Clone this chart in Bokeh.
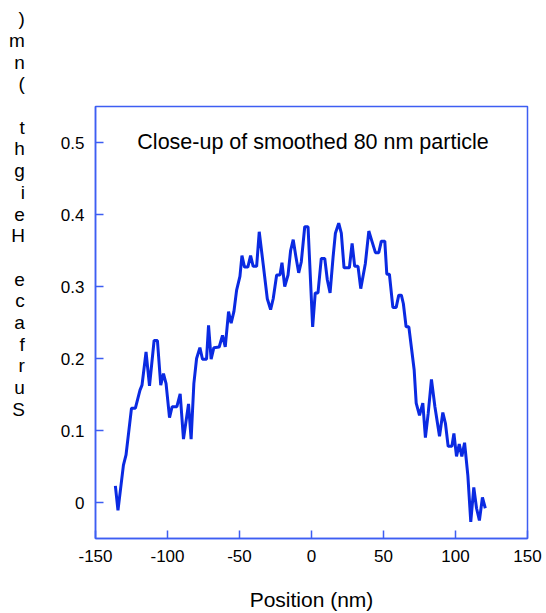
from bokeh.plotting import figure
from bokeh.models import Range1d, FixedTicker, Label
from bokeh.embed import file_html
from bokeh.resources import INLINE

# Height profile across the particle (position in nm, height in nm)
position_nm = [
    -136.2, -134.4, -130.6, -128.8, -125.0, -122.3, -119.1, -117.7, -114.9, -112.5,
    -109.3, -107.0, -104.7, -102.8, -101.0, -98.6, -96.8, -93.5, -91.2, -88.9,
    -85.4, -83.6, -81.7, -79.8, -77.5, -75.7, -72.9, -71.5, -69.7, -67.8,
    -64.1, -61.8, -59.9, -57.6, -55.8, -53.9, -52.0, -49.7, -48.3, -46.5,
    -44.2, -42.3, -40.5, -38.1, -36.3, -33.5, -30.7, -28.4, -26.6, -24.2,
    -21.9, -20.5, -18.6, -16.3, -14.5, -12.7, -10.8, -8.9, -7.1, -4.7,
    -2.4, 0.8, 2.6, 4.5, 6.8, 9.2, 11.0, 12.9, 15.0, 16.6,
    18.9, 20.7, 22.6, 26.3, 28.2, 30.0, 32.3, 34.2, 37.4, 39.8,
    42.1, 44.4, 46.7, 48.5, 50.9, 52.3, 54.1, 56.5, 58.8, 60.6,
    62.4, 63.8, 65.7, 67.6, 69.4, 71.3, 72.7, 75.0, 77.3, 79.1,
    81.0, 83.3, 85.7, 88.9, 91.2, 93.0, 94.9, 97.5, 98.9, 100.7,
    102.6, 104.4, 106.3, 108.6, 110.6, 112.7, 114.6, 116.6, 118.7, 120.7,
]
height_nm = [
    0.023, -0.011, 0.052, 0.066, 0.131, 0.131, 0.156, 0.163, 0.209, 0.162,
    0.225, 0.225, 0.163, 0.179, 0.165, 0.118, 0.133, 0.133, 0.151, 0.088,
    0.137, 0.088, 0.165, 0.200, 0.215, 0.199, 0.199, 0.246, 0.199, 0.215,
    0.216, 0.232, 0.216, 0.265, 0.249, 0.265, 0.295, 0.314, 0.343, 0.327,
    0.327, 0.343, 0.328, 0.328, 0.376, 0.330, 0.283, 0.268, 0.283, 0.316,
    0.316, 0.333, 0.300, 0.316, 0.350, 0.365, 0.341, 0.319, 0.334, 0.383,
    0.383, 0.244, 0.291, 0.291, 0.339, 0.339, 0.309, 0.291, 0.341, 0.374,
    0.388, 0.374, 0.326, 0.326, 0.360, 0.328, 0.328, 0.297, 0.332, 0.377,
    0.362, 0.347, 0.347, 0.363, 0.363, 0.317, 0.317, 0.271, 0.271, 0.288,
    0.288, 0.276, 0.244, 0.244, 0.215, 0.184, 0.138, 0.121, 0.138, 0.090,
    0.123, 0.171, 0.133, 0.092, 0.125, 0.110, 0.078, 0.078, 0.096, 0.064,
    0.081, 0.064, 0.083, 0.037, -0.027, 0.021, -0.008, -0.025, 0.007, -0.008,
]

x_ticks = [-150, -100, -50, 0, 50, 100, 150]
x_tick_labels = ["-150", "-100", "-50", "0", "50", "100", "150"]
y_ticks = [0, 0.1, 0.2, 0.3, 0.4, 0.5]
y_tick_labels = ["0", "0.1", "0.2", "0.3", "0.4", "0.5"]

title_text = "Close-up of smoothed 80 nm particle"
x_label_text = "Position (nm)"
y_label_text = "Surface Height (nm)"

FONT = "Liberation Sans"
LINE_BLUE = "#0a2ae2"
FRAME_BLUE = "#3d5ef2"

X0, X1 = -150, 150
Y0, Y1 = -0.05, 0.55
FRAME_LEFT, FRAME_TOP, FRAME_SIZE = 95, 106, 432
W, H = 546, 613

p = figure(
    width=W, height=H,
    x_range=Range1d(X0, X1), y_range=Range1d(Y0, Y1),
    output_backend="svg", toolbar_location=None,
    min_border_left=FRAME_LEFT, min_border_top=FRAME_TOP,
    min_border_right=W - FRAME_LEFT - FRAME_SIZE,
    min_border_bottom=H - FRAME_TOP - FRAME_SIZE,
)
p.background_fill_color = "white"
p.border_fill_color = "white"
p.outline_line_color = FRAME_BLUE
p.outline_line_width = 1.5
p.xgrid.visible = False
p.ygrid.visible = False

xaxis, yaxis = p.xaxis[0], p.yaxis[0]
for ax, ticks, labels in ((xaxis, x_ticks, x_tick_labels), (yaxis, y_ticks, y_tick_labels)):
    ax.ticker = FixedTicker(ticks=ticks)
    ax.major_label_overrides = dict(zip(ticks, labels))
    ax.axis_line_color = FRAME_BLUE
    ax.axis_line_width = 1.5
    ax.major_tick_line_color = FRAME_BLUE
    ax.major_tick_line_width = 1.5
    ax.major_tick_in = 8
    ax.major_tick_out = 0
    ax.minor_tick_line_color = None
    ax.major_label_text_font = FONT
    ax.major_label_text_font_size = "17px"
    ax.major_label_text_color = "black"
    ax.major_label_standoff = 11
    ax.axis_label_text_font = FONT
    ax.axis_label_text_font_style = "normal"
    ax.axis_label_text_color = "black"

xaxis.axis_label = x_label_text
xaxis.axis_label_text_font_size = "21px"
xaxis.axis_label_standoff = 23

# vertical axis title: upright characters stacked bottom-to-top,
# padded with empty lines so the column sits high on the left side
stacked = list(reversed(y_label_text)) + [" "] * 10
if "axis_label_orientation" in yaxis.properties():
    yaxis.axis_label = "\n".join(stacked)
    yaxis.axis_label_orientation = "horizontal"
    yaxis.axis_label_text_font_size = "19px"
    yaxis.axis_label_text_line_height = 1.033
    yaxis.axis_label_standoff = 33
else:
    for i, ch in enumerate(y_label_text):
        if ch != " ":
            p.add_layout(Label(x=20, y=403 - i * 21.7, x_units="canvas", y_units="canvas",
                               text=ch, text_font=FONT, text_font_size="19px",
                               text_align="center", text_baseline="middle"), "left")

p.line(position_nm, height_nm, line_width=3, line_color=LINE_BLUE)

p.add_layout(Label(x=312.5, y=141, x_units="canvas", y_units="canvas", text=title_text,
                   text_font=FONT, text_font_size="21.5px", text_color="black",
                   text_align="center", text_baseline="middle"))

open("out.html", "w").write(file_html(p, INLINE))
